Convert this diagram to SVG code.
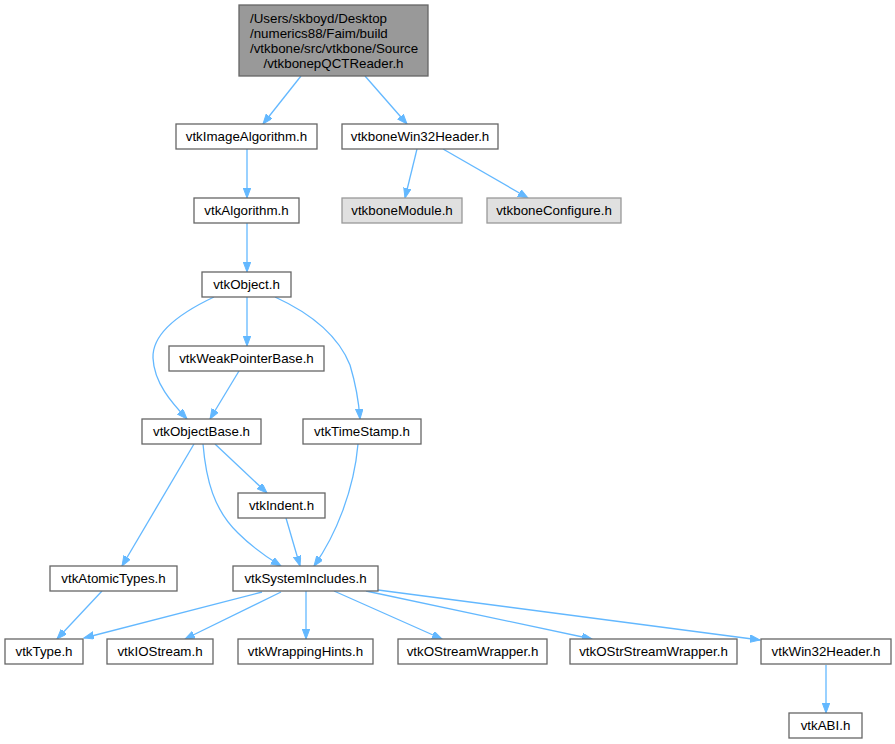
<svg xmlns="http://www.w3.org/2000/svg" width="895" height="744" viewBox="0 0 895 744">
<style>
.n rect{fill:#ffffff;stroke:#666666;stroke-width:1.3}
.n.g rect{fill:#e0e0e0;stroke:#999999}
.n.r rect{fill:#999999;stroke:#666666}
text{font-family:"Liberation Sans",Arial,Helvetica,sans-serif;font-size:13.33px;fill:#000000;text-anchor:middle}
#edges path{fill:none;stroke:#63b8ff;stroke-width:1.3;marker-end:url(#ah)}
</style>
<defs>
<marker id="ah" markerUnits="userSpaceOnUse" markerWidth="11" markerHeight="8" refX="10" refY="3.75" orient="auto">
<path d="M0,0 L10,3.75 L0,7.5 z" fill="#63b8ff" stroke="#63b8ff" stroke-width="1"/>
</marker>
</defs>
<rect width="895" height="744" fill="#ffffff"/>
<g id="edges">
<path d="M301,76 L263,124"/>
<path d="M365,76 L407,124"/>
<path d="M247,149 L247,198"/>
<path d="M417,149 L405,198"/>
<path d="M443,149 L528,198"/>
<path d="M247,223 L247,272"/>
<path d="M214,297 C180,313 152,333 153,358 C154,383 172,403 187,419"/>
<path d="M247,297 L247,346"/>
<path d="M239,371 L210,419"/>
<path d="M275,297 C310,313 338,335 350,365 C356,385 359,405 360,419"/>
<path d="M194,444 L122,566"/>
<path d="M203,444 C206,480 214,510 238,533 C253,548 268,558 281,566"/>
<path d="M215,444 L267,493"/>
<path d="M286,518 L300,566"/>
<path d="M358,444 C354,490 336,535 314,566"/>
<path d="M102,591 L57,639"/>
<path d="M262,592 L84,638"/>
<path d="M281,592 L185,639"/>
<path d="M306,591 L306,639"/>
<path d="M334,591 L442,639"/>
<path d="M366,591 L592,639"/>
<path d="M378,590 L760,640"/>
<path d="M826,665 L826,713"/>
</g>
<g id="root" class="n r"><rect x="239" y="5" width="189" height="71"/>
<text x="250" y="23" style="text-anchor:start">/Users/skboyd/Desktop</text>
<text x="250" y="38" style="text-anchor:start">/numerics88/Faim/build</text>
<text x="250" y="53" style="text-anchor:start">/vtkbone/src/vtkbone/Source</text>
<text x="333.5" y="68">/vtkbonepQCTReader.h</text></g>
<g id="vtkImageAlgorithm" class="n"><rect x="176" y="124" width="141" height="25"/><text x="246.5" y="141">vtkImageAlgorithm.h</text></g>
<g id="vtkboneWin32Header" class="n"><rect x="342" y="124" width="156" height="25"/><text x="420" y="141">vtkboneWin32Header.h</text></g>
<g id="vtkAlgorithm" class="n"><rect x="194" y="198" width="105" height="25"/><text x="246.5" y="215">vtkAlgorithm.h</text></g>
<g id="vtkboneModule" class="n g"><rect x="342" y="198" width="120" height="25"/><text x="402" y="215">vtkboneModule.h</text></g>
<g id="vtkboneConfigure" class="n g"><rect x="487" y="198" width="134" height="25"/><text x="554" y="215">vtkboneConfigure.h</text></g>
<g id="vtkObject" class="n"><rect x="202" y="272" width="89" height="25"/><text x="246.5" y="289">vtkObject.h</text></g>
<g id="vtkWeakPointerBase" class="n"><rect x="169" y="346" width="155" height="25"/><text x="246.5" y="363">vtkWeakPointerBase.h</text></g>
<g id="vtkObjectBase" class="n"><rect x="142" y="419" width="119" height="25"/><text x="201.5" y="436">vtkObjectBase.h</text></g>
<g id="vtkTimeStamp" class="n"><rect x="303" y="419" width="118" height="25"/><text x="362" y="436">vtkTimeStamp.h</text></g>
<g id="vtkIndent" class="n"><rect x="238" y="493" width="87" height="25"/><text x="281.5" y="510">vtkIndent.h</text></g>
<g id="vtkAtomicTypes" class="n"><rect x="50" y="566" width="127" height="25"/><text x="113.5" y="583">vtkAtomicTypes.h</text></g>
<g id="vtkSystemIncludes" class="n"><rect x="233" y="566" width="145" height="25"/><text x="305.5" y="583">vtkSystemIncludes.h</text></g>
<g id="vtkType" class="n"><rect x="5" y="639" width="78" height="25"/><text x="44" y="656">vtkType.h</text></g>
<g id="vtkIOStream" class="n"><rect x="107" y="639" width="106" height="25"/><text x="160" y="656">vtkIOStream.h</text></g>
<g id="vtkWrappingHints" class="n"><rect x="238" y="639" width="135" height="25"/><text x="305.5" y="656">vtkWrappingHints.h</text></g>
<g id="vtkOStreamWrapper" class="n"><rect x="398" y="639" width="149" height="25"/><text x="472.5" y="656">vtkOStreamWrapper.h</text></g>
<g id="vtkOStrStreamWrapper" class="n"><rect x="570" y="639" width="167" height="25"/><text x="653.5" y="656">vtkOStrStreamWrapper.h</text></g>
<g id="vtkWin32Header" class="n"><rect x="761" y="639" width="130" height="25"/><text x="826" y="656">vtkWin32Header.h</text></g>
<g id="vtkABI" class="n"><rect x="789" y="713" width="73" height="25"/><text x="825.5" y="730">vtkABI.h</text></g>
</svg>
